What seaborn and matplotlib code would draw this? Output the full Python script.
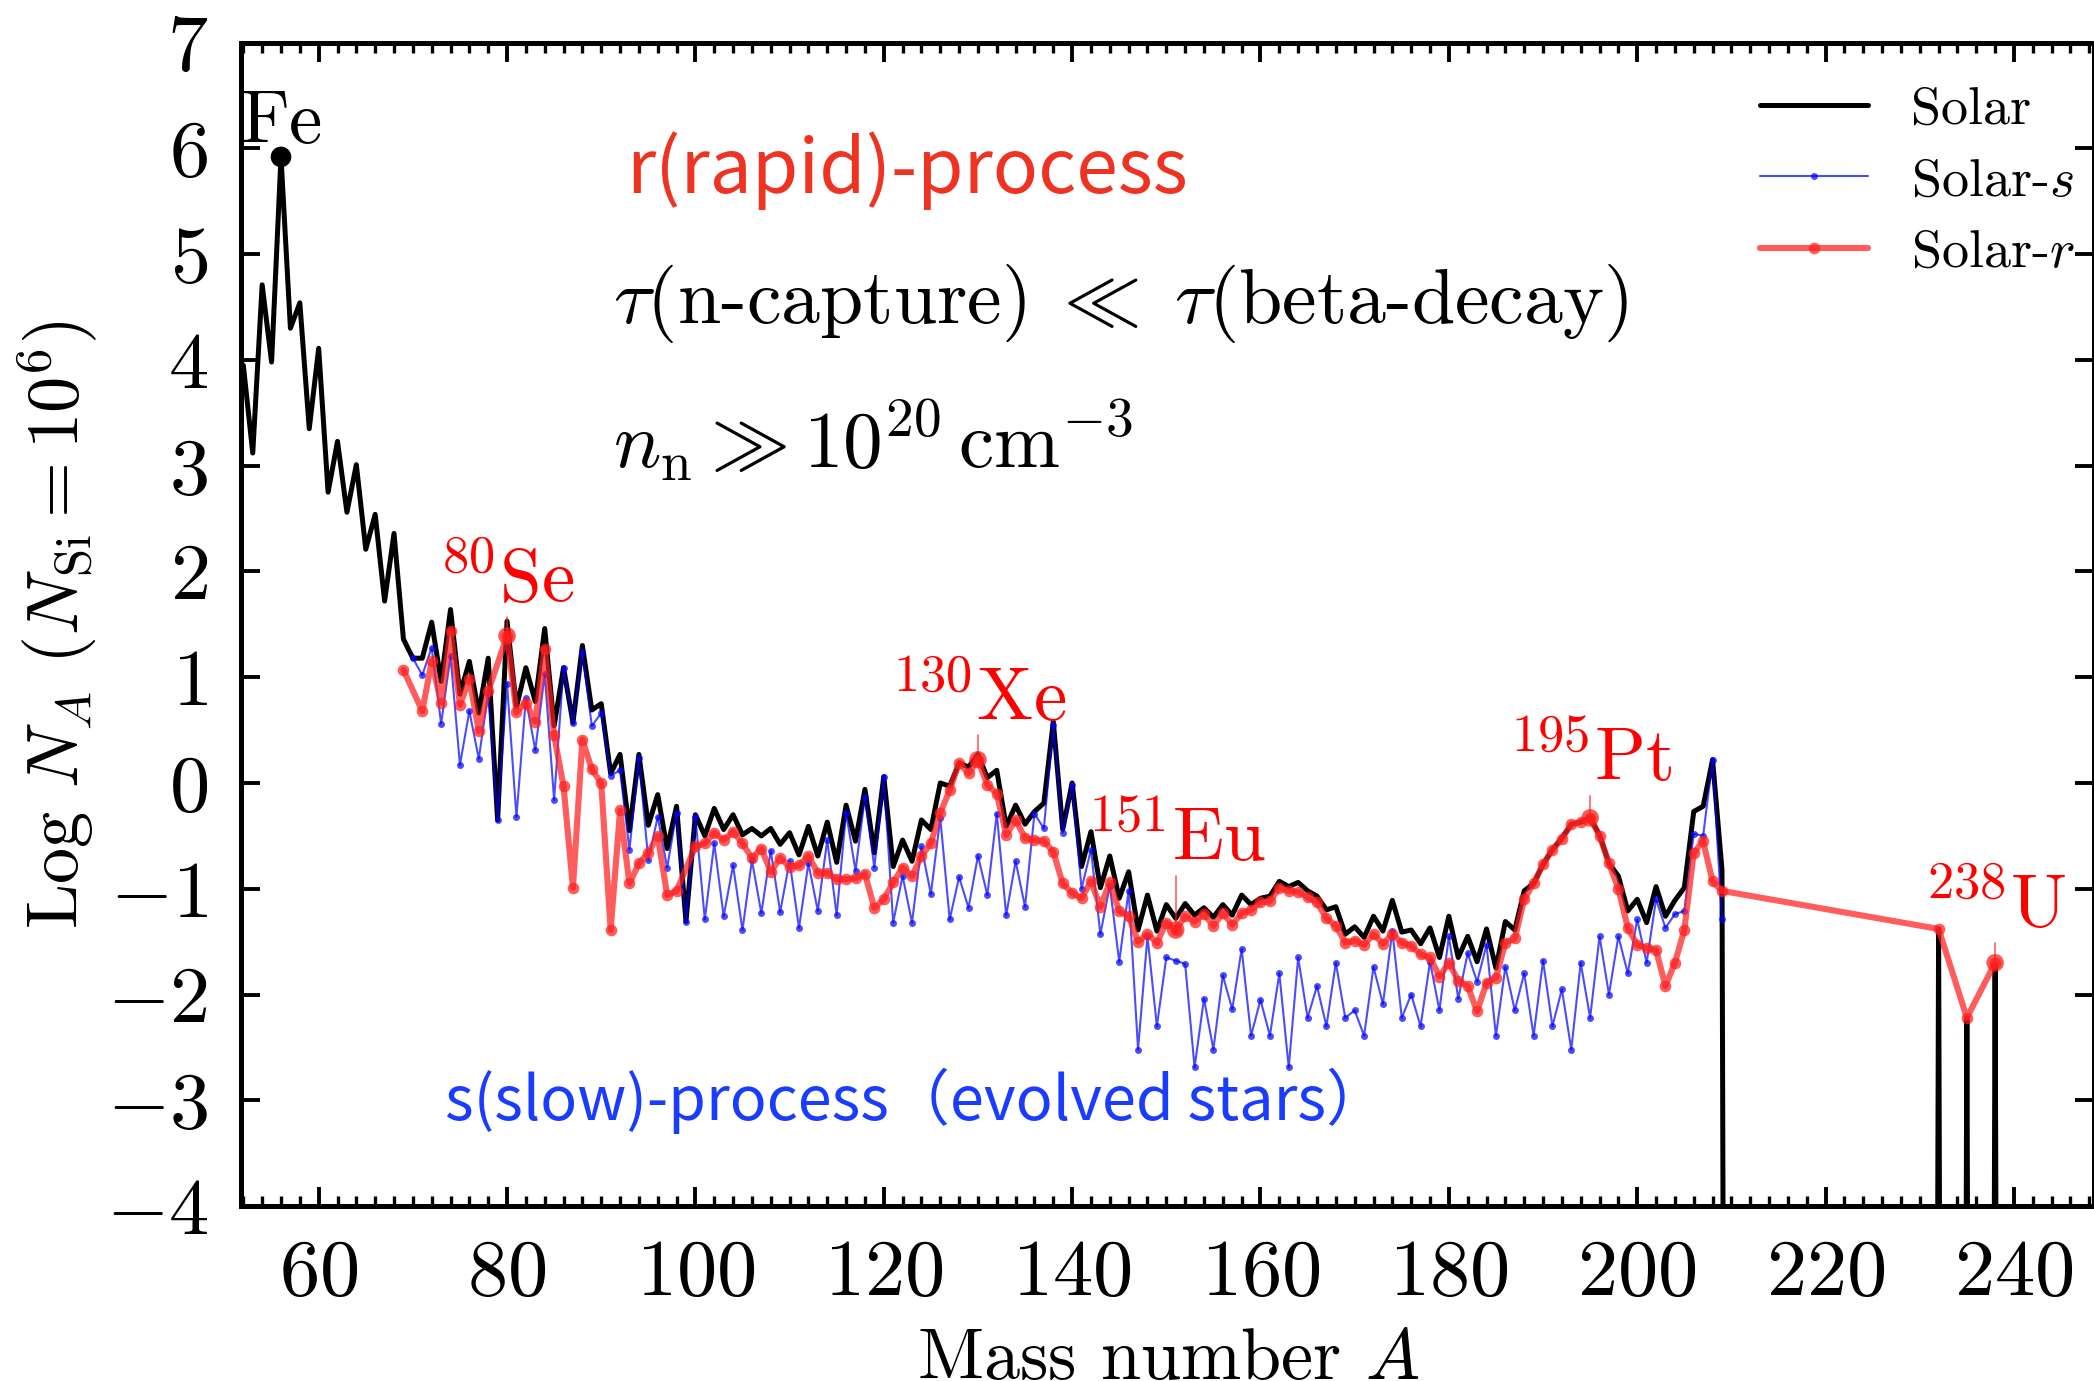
import numpy as np
import pandas as pd
import matplotlib
matplotlib.use("Agg")
import matplotlib.pyplot as plt
from matplotlib.ticker import MultipleLocator
import seaborn as sns

# ---------------- data (log abundances, N_Si = 1e6) ----------------
solar_start = 52
solar_log = [
    3.95, 3.12, 4.71, 3.98, 5.92, 4.30, 4.54, 3.35, 4.11, 2.75,
    3.23, 2.56, 3.01, 2.21, 2.54, 1.72, 2.36, 1.36, 1.18, 1.18,
    1.52, 0.96, 1.64, 0.84, 1.15, 0.66, 1.18, -0.35, 1.53, 0.72,
    1.09, 0.77, 1.46, 0.54, 1.09, 0.57, 1.30, 0.69, 0.75, 0.09,
    0.27, -0.45, 0.27, -0.40, -0.11, -0.62, -0.22, -1.31, -0.30, -0.50,
    -0.24, -0.44, -0.30, -0.49, -0.43, -0.50, -0.43, -0.58, -0.47, -0.68,
    -0.41, -0.69, -0.37, -0.75, -0.21, -0.55, -0.06, -0.66, 0.06, -0.79,
    -0.54, -0.74, -0.35, -0.44, 0.00, -0.03, 0.19, 0.15, 0.27, 0.05,
    0.12, -0.41, -0.21, -0.39, -0.27, -0.19, 0.58, -0.44, 0.00, -0.79,
    -0.46, -0.99, -0.69, -1.09, -0.84, -1.39, -1.06, -1.40, -1.15, -1.28,
    -1.14, -1.25, -1.18, -1.27, -1.15, -1.25, -1.06, -1.15, -1.09, -1.07,
    -0.93, -0.98, -0.94, -1.02, -1.07, -1.20, -1.17, -1.43, -1.36, -1.46,
    -1.26, -1.40, -1.11, -1.41, -1.39, -1.52, -1.37, -1.65, -1.26, -1.65,
    -1.45, -1.69, -1.38, -1.75, -1.31, -1.39, -1.02, -0.95, -0.77, -0.63,
    -0.52, -0.39, -0.37, -0.33, -0.49, -0.76, -0.88, -1.21, -1.10, -1.32,
    -0.98, -1.26, -1.11, -0.99, -0.27, -0.22, 0.22, -0.82,
]
actinide_A = [232, 235, 238]
actinide_solar = [-1.38, -2.22, -1.72]
actinide_r = [-1.38, -2.22, -1.70]
solar_end_A = 240
LOG_ZERO = -30.0   # no stable isotope (abundance ~ 0)

s_start = 70
solar_s = [
    1.18, 1.02, 1.28, 0.56, 1.20, 0.17, 0.68, 0.23, 0.85, -0.35,
    0.94, -0.32, 0.80, 0.31, 1.03, -0.16, 1.09, 0.57, 1.24, 0.54,
    0.66, 0.07, 0.12, -0.63, 0.24, -0.73, -0.32, -0.80, -0.28, -1.31,
    -0.32, -1.29, -0.57, -1.26, -0.78, -1.39, -0.73, -1.23, -0.64, -1.22,
    -0.74, -1.37, -0.76, -1.21, -0.54, -1.25, -0.28, -0.83, -0.13, -0.80,
    0.06, -1.32, -0.88, -1.32, -0.60, -1.05, -0.33, -1.29, -0.89, -1.18,
    -0.69, -1.06, -0.29, -1.25, -0.74, -1.17, -0.29, -0.43, 0.55, -0.47,
    -0.02, -1.00, -0.63, -1.43, -0.97, -1.69, -1.02, -2.52, -1.45, -2.30,
    -1.65, -1.68, -1.71, -2.69, -2.04, -2.52, -1.82, -2.14, -1.57, -2.39,
    -2.05, -2.39, -1.80, -2.69, -1.65, -2.22, -1.92, -2.30, -1.70, -2.22,
    -2.15, -2.39, -1.74, -2.09, -1.40, -2.22, -2.00, -2.30, -1.69, -2.15,
    -1.45, -2.04, -1.61, -1.88, -1.53, -2.39, -1.74, -2.15, -1.80, -2.39,
    -1.68, -2.30, -1.95, -2.52, -1.70, -2.22, -1.45, -2.00, -1.45, -1.80,
    -1.29, -1.70, -1.10, -1.37, -1.24, -1.21, -0.48, -0.50, 0.22, -1.29,
]

nan = np.nan
r_start = 69
solar_r = [
    1.07, nan, 0.68, 1.15, 0.76, 1.44, 0.74, 0.98, 0.49, 0.87,
    nan, 1.39, 0.67, 0.76, 0.58, 1.27, 0.45, -0.03, -0.99, 0.41,
    0.13, 0.00, -1.39, -0.26, -0.95, -0.76, -0.66, -0.50, -1.06, -1.02,
    nan, -0.60, -0.57, -0.47, -0.54, -0.46, -0.57, -0.71, -0.62, -0.84,
    -0.71, -0.79, -0.78, -0.69, -0.85, -0.85, -0.91, -0.91, -0.90, -0.86,
    -1.18, -1.10, -0.94, -0.80, -0.88, -0.69, -0.57, -0.28, -0.07, 0.19,
    0.09, 0.22, -0.02, -0.10, -0.49, -0.35, -0.52, -0.54, -0.55, -0.65,
    -0.95, -1.04, -1.09, -0.93, -1.17, -0.94, -1.21, -1.26, -1.50, -1.43,
    -1.51, -1.32, -1.39, -1.26, -1.31, -1.24, -1.35, -1.23, -1.34, -1.23,
    -1.20, -1.13, -1.12, -0.99, -1.02, -1.03, -1.08, -1.13, -1.28, -1.35,
    -1.51, -1.49, -1.53, -1.43, -1.52, -1.43, -1.51, -1.54, -1.62, -1.65,
    -1.83, -1.70, -1.87, -1.92, -2.16, -1.89, -1.84, -1.51, -1.47, -1.10,
    -0.95, -0.77, -0.63, -0.53, -0.39, -0.37, -0.33, -0.50, -0.76, -1.00,
    -1.37, -1.53, -1.56, -1.58, -1.92, -1.70, -1.39, -0.66, -0.55, -0.93,
    -1.02,
]

highlight_A = [80, 130, 151, 195, 238]
highlight_names = ["Se", "Xe", "Eu", "Pt", "U"]
highlight_label_y = [1.71, 0.59, -0.735, 0.02, -1.37]
fe_A = 56

# ---------------- tables ----------------
A_sol = np.arange(solar_start, solar_end_A + 1)
sol_vals = np.full(A_sol.shape, LOG_ZERO)
sol_vals[:len(solar_log)] = solar_log
for a, v in zip(actinide_A, actinide_solar):
    sol_vals[A_sol == a] = v
df_sol = pd.DataFrame({"A": A_sol, "logN": sol_vals})

df_s = pd.DataFrame({"A": np.arange(s_start, s_start + len(solar_s)), "logN": solar_s})

df_r = pd.DataFrame({"A": np.concatenate([np.arange(r_start, r_start + len(solar_r)), actinide_A]),
                     "logN": np.concatenate([solar_r, actinide_r])}).dropna()
df_hl = df_r[df_r["A"].isin(highlight_A)].set_index("A").loc[highlight_A].reset_index()
df_fe = df_sol[df_sol["A"] == fe_A]

# ---------------- style ----------------
sns.set_style("ticks")
plt.rcParams["font.family"] = "serif"
plt.rcParams["font.serif"] = ["cmr10"]
plt.rcParams["mathtext.fontset"] = "cm"
plt.rcParams["axes.formatter.use_mathtext"] = True
plt.rcParams["axes.unicode_minus"] = True
for key in ["text.color", "axes.labelcolor", "xtick.color", "ytick.color", "axes.edgecolor"]:
    plt.rcParams[key] = "black"

RED = (1.0, 0.12, 0.12)
fig = plt.figure(figsize=(10.47, 6.905), dpi=200)
ax = fig.add_axes([0.1153, 0.1267, 0.8847, 0.8424])

sns.lineplot(data=df_sol, x="A", y="logN", color="black", lw=1.8, ax=ax,
             estimator=None, label="Solar", zorder=2)
sns.lineplot(data=df_s, x="A", y="logN", color="blue", lw=0.75, alpha=0.7,
             marker="o", markersize=2.5, markeredgewidth=0, ax=ax,
             estimator=None, label=r"Solar-$s$", zorder=3)
sns.lineplot(data=df_r, x="A", y="logN", color=RED, lw=2.2, alpha=0.72,
             marker="o", markersize=4.2, markeredgewidth=0, ax=ax,
             estimator=None, label=r"Solar-$r$", zorder=4)
sns.scatterplot(data=df_hl, x="A", y="logN", color=RED, s=40, alpha=0.75,
                edgecolor="none", ax=ax, zorder=5, legend=False)
sns.scatterplot(data=df_fe, x="A", y="logN", color="black", s=55,
                edgecolor="none", ax=ax, zorder=5, legend=False)

# isotope labels with short tick lines
for a, name, ly, v in zip(highlight_A, highlight_names, highlight_label_y, df_hl["logN"]):
    ax.plot([a, a], [v, ly - 0.14], color=RED, lw=0.6, alpha=0.7, zorder=4)
    ax.text(a, ly, r"$^{%d}\mathrm{%s}$" % (a, name), color="red", fontsize=27,
            ha="center", va="baseline")
ax.text(fe_A, 6.05, r"$\mathrm{Fe}$", color="black", fontsize=27, ha="center", va="baseline")

ax.text(92.6, 5.79, "r(rapid)-process", color="#ee3322", fontsize=27,
        family="Noto Sans CJK JP", ha="left", va="center")
ax.text(91.2, 4.53, r"$\tau$(n-capture)$\;\ll\;\tau$(beta-decay)", fontsize=28,
        ha="left", va="center")
ax.text(91.2, 3.24, r"$n_{\rm n} \gg 10^{20}\,{\rm cm}^{-3}$", fontsize=28.5,
        ha="left", va="center")
ax.text(73.4, -3.01, "s(slow)-process\uff08evolved stars\uff09", color="#1a3cff", fontsize=22,
        family="Noto Sans CJK JP", ha="left", va="center")

# axes
ax.set_xlim(51.8, 248.5)
ax.set_ylim(-4, 7)
ax.xaxis.set_major_locator(MultipleLocator(20))
ax.xaxis.set_minor_locator(MultipleLocator(2))
ax.yaxis.set_major_locator(MultipleLocator(1))
ax.tick_params(which="both", direction="in", top=True, right=True, color="black")
ax.tick_params(which="major", length=7, width=1.4, labelsize=29, pad=12)
ax.tick_params(which="minor", length=3.6, width=1.2)
for sp in ax.spines.values():
    sp.set_linewidth(1.8)
    sp.set_color("black")
ax.set_xlabel(r"Mass number $A$", fontsize=26, labelpad=6)
ax.set_ylabel(r"Log $N_A$ ($N_{\rm Si} = 10^6$)", fontsize=26, labelpad=2)

ax.legend(loc="upper left", bbox_to_anchor=(0.8197, 0.963), frameon=False,
          fontsize=19.5, handlelength=2.0, handletextpad=0.78, labelspacing=0.44,
          borderpad=0, borderaxespad=0)

fig.savefig("out.png", dpi=200)
